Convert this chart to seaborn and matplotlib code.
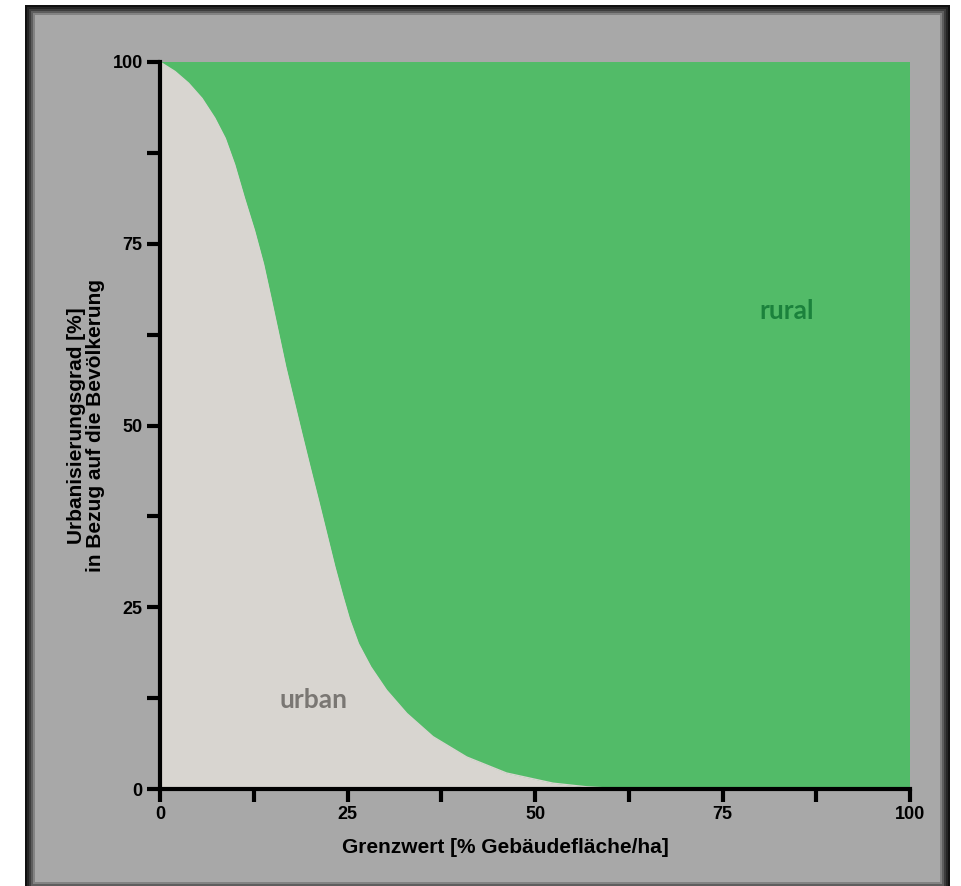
import matplotlib
matplotlib.use("Agg")
import matplotlib.pyplot as plt
from matplotlib.patches import Rectangle
from matplotlib.ticker import MultipleLocator
import seaborn as sns
import pandas as pd

# ---- data ----
grenzwert = [0.0, 2.0, 3.8, 5.6, 7.3, 8.7, 9.95, 11.25, 12.6, 13.8, 14.8,
             15.8, 16.75, 17.8, 18.9, 20.0, 21.1, 22.2, 23.3, 24.3, 25.25,
             26.45, 28.1, 30.2, 32.9, 36.4, 40.9, 46.2, 52.4, 56.9, 62.0, 100.0]
urban_pct = [100.0, 98.7, 97.1, 95.0, 92.3, 89.5, 85.9, 81.3, 76.8, 72.2, 67.5,
             62.7, 58.1, 53.6, 48.9, 44.3, 39.8, 35.2, 30.6, 26.8, 23.4,
             20.0, 16.8, 13.6, 10.4, 7.2, 4.4, 2.2, 0.8, 0.3, 0.0, 0.0]
x_ticks = [0, 25, 50, 75, 100]
y_ticks = [0, 25, 50, 75, 100]
xlabel = "Grenzwert [% Gebäudefläche/ha]"
ylabel = "Urbanisierungsgrad [%]\nin Bezug auf die Bevölkerung"
label_rural = "rural"
label_urban = "urban"

df = pd.DataFrame({"x": grenzwert, "y": urban_pct})

sns.set_style("ticks")
plt.rcParams["font.family"] = ["Liberation Sans", "DejaVu Sans"]
plt.rcParams["text.color"] = "black"
plt.rcParams["axes.labelcolor"] = "black"
plt.rcParams["xtick.color"] = "black"
plt.rcParams["ytick.color"] = "black"

W, H = 961, 886
fig = plt.figure(figsize=(W / 100, H / 100), dpi=100)
fig.patch.set_facecolor("white")

def px_rect(x0, y0, x1, y1, color, z):
    fig.patches.append(Rectangle((x0 / W, 1 - y1 / H), (x1 - x0) / W, (y1 - y0) / H,
                                 transform=fig.transFigure, facecolor=color,
                                 edgecolor="none", zorder=z))

# frame with dark gradient border
steps = [(0, "#111111"), (2, "#262626"), (4, "#3d3d3d"), (6, "#5e5e5e"),
         (8, "#838383"), (10, "#a8a8a8")]
for i, (ins, col) in enumerate(steps):
    px_rect(25 + ins, 5 + ins, 950 - ins, 892 - ins, col, -10 + i)

GREEN = "#52bb68"
URBAN = "#d8d5d0"

ax = fig.add_axes([160 / W, 1 - 789 / H, 750 / W, 727 / H])
ax.set_facecolor(GREEN)
ax.set_xlim(0, 100)
ax.set_ylim(0, 100)

ax.fill_between(df["x"], 0, df["y"], color=URBAN, linewidth=0, zorder=1)
sns.lineplot(data=df, x="x", y="y", ax=ax, color=URBAN, linewidth=1.0,
             sort=False, zorder=2, legend=False)

ax.text(83.6, 65.7, label_rural, ha="center", va="center", fontsize=19,
        fontweight="bold", color="#1b823c", family=["Lato", "DejaVu Sans"])
ax.text(20.5, 12.2, label_urban, ha="center", va="center", fontsize=19,
        fontweight="bold", color="#7a7773", family=["Lato", "DejaVu Sans"])

sns.despine(ax=ax)
for s in ["left", "bottom"]:
    ax.spines[s].set_linewidth(3)
    ax.spines[s].set_color("black")
    ax.spines[s].set_zorder(5)

ax.set_xticks(x_ticks)
ax.set_yticks(y_ticks)
ax.xaxis.set_minor_locator(MultipleLocator(12.5))
ax.yaxis.set_minor_locator(MultipleLocator(12.5))
ax.tick_params(which="both", direction="out", length=9.5, width=3, color="black")
ax.tick_params(axis="x", which="major", pad=3, labelsize=13, labelcolor="black")
ax.tick_params(axis="y", which="major", pad=3, labelsize=13, labelcolor="black")
for lab in ax.get_xticklabels() + ax.get_yticklabels():
    lab.set_fontweight("bold")

ax.set_xlabel(xlabel, fontsize=15, fontweight="bold", labelpad=12, color="black")
ax.xaxis.set_label_coords(0.461, -0.068)
ax.set_ylabel(ylabel, fontsize=15, fontweight="bold", labelpad=5,
              linespacing=1.05, color="black")

fig.savefig("out.png", dpi=100, facecolor="white")
